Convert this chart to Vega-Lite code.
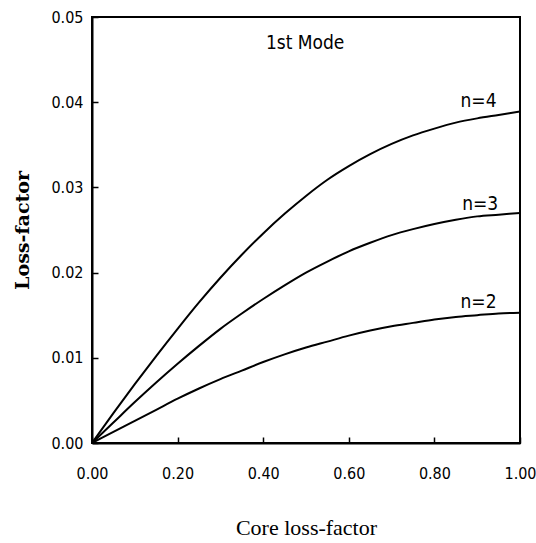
{
  "$schema": "https://vega.github.io/schema/vega-lite/v6.json",
  "width": 428,
  "height": 426,
  "autosize": "none",
  "padding": {"left": 92, "top": 17, "right": 16, "bottom": 100},
  "background": "white",
  "config": {
    "view": {"stroke": "black", "strokeWidth": 2},
    "axis": {
      "grid": false,
      "domainColor": "black",
      "domainWidth": 2,
      "tickColor": "black",
      "tickWidth": 1.5,
      "tickSize": -6,
      "labelColor": "black",
      "labelFont": "DejaVu Sans Condensed, Liberation Sans, sans-serif",
      "labelFontSize": 16,
      "titleColor": "black"
    }
  },
  "datasets": {
    "curves": [
      {"n": "n=4", "x": 0, "y": 0}, {"n": "n=4", "x": 0.05, "y": 0.0035}, {"n": "n=4", "x": 0.1, "y": 0.0069}, {"n": "n=4", "x": 0.15, "y": 0.0102}, {"n": "n=4", "x": 0.2, "y": 0.0134}, {"n": "n=4", "x": 0.25, "y": 0.0165}, {"n": "n=4", "x": 0.3, "y": 0.0194}, {"n": "n=4", "x": 0.35, "y": 0.0221}, {"n": "n=4", "x": 0.4, "y": 0.0246}, {"n": "n=4", "x": 0.45, "y": 0.0269}, {"n": "n=4", "x": 0.5, "y": 0.0290}, {"n": "n=4", "x": 0.55, "y": 0.0309}, {"n": "n=4", "x": 0.6, "y": 0.0325}, {"n": "n=4", "x": 0.65, "y": 0.0339}, {"n": "n=4", "x": 0.7, "y": 0.0351}, {"n": "n=4", "x": 0.75, "y": 0.0361}, {"n": "n=4", "x": 0.8, "y": 0.0369}, {"n": "n=4", "x": 0.85, "y": 0.0376}, {"n": "n=4", "x": 0.9, "y": 0.0381}, {"n": "n=4", "x": 0.95, "y": 0.0385}, {"n": "n=4", "x": 1.0, "y": 0.0389},
      {"n": "n=3", "x": 0, "y": 0}, {"n": "n=3", "x": 0.05, "y": 0.0024}, {"n": "n=3", "x": 0.1, "y": 0.0048}, {"n": "n=3", "x": 0.15, "y": 0.0071}, {"n": "n=3", "x": 0.2, "y": 0.0093}, {"n": "n=3", "x": 0.25, "y": 0.0114}, {"n": "n=3", "x": 0.3, "y": 0.0134}, {"n": "n=3", "x": 0.35, "y": 0.0152}, {"n": "n=3", "x": 0.4, "y": 0.0169}, {"n": "n=3", "x": 0.45, "y": 0.0185}, {"n": "n=3", "x": 0.5, "y": 0.0200}, {"n": "n=3", "x": 0.55, "y": 0.0213}, {"n": "n=3", "x": 0.6, "y": 0.0225}, {"n": "n=3", "x": 0.65, "y": 0.0235}, {"n": "n=3", "x": 0.7, "y": 0.0244}, {"n": "n=3", "x": 0.75, "y": 0.0251}, {"n": "n=3", "x": 0.8, "y": 0.0257}, {"n": "n=3", "x": 0.85, "y": 0.0262}, {"n": "n=3", "x": 0.9, "y": 0.0266}, {"n": "n=3", "x": 0.95, "y": 0.0268}, {"n": "n=3", "x": 1.0, "y": 0.027},
      {"n": "n=2", "x": 0, "y": 0}, {"n": "n=2", "x": 0.05, "y": 0.0013}, {"n": "n=2", "x": 0.1, "y": 0.0026}, {"n": "n=2", "x": 0.15, "y": 0.0039}, {"n": "n=2", "x": 0.2, "y": 0.0052}, {"n": "n=2", "x": 0.25, "y": 0.0064}, {"n": "n=2", "x": 0.3, "y": 0.0075}, {"n": "n=2", "x": 0.35, "y": 0.0085}, {"n": "n=2", "x": 0.4, "y": 0.0095}, {"n": "n=2", "x": 0.45, "y": 0.0104}, {"n": "n=2", "x": 0.5, "y": 0.0112}, {"n": "n=2", "x": 0.55, "y": 0.0119}, {"n": "n=2", "x": 0.6, "y": 0.0126}, {"n": "n=2", "x": 0.65, "y": 0.0132}, {"n": "n=2", "x": 0.7, "y": 0.0137}, {"n": "n=2", "x": 0.75, "y": 0.0141}, {"n": "n=2", "x": 0.8, "y": 0.0145}, {"n": "n=2", "x": 0.85, "y": 0.0148}, {"n": "n=2", "x": 0.9, "y": 0.0150}, {"n": "n=2", "x": 0.95, "y": 0.0152}, {"n": "n=2", "x": 1.0, "y": 0.0153}
    ],
    "labels": [
      {"label": "n=4", "x": 0.903, "y": 0.0401},
      {"label": "n=3", "x": 0.907, "y": 0.0281},
      {"label": "n=2", "x": 0.903, "y": 0.0166},
      {"label": "1st Mode", "x": 0.498, "y": 0.04695}
    ]
  },
  "layer": [
    {
      "data": {"name": "curves"},
      "mark": {"type": "line", "color": "black", "strokeWidth": 2, "interpolate": "monotone", "clip": true},
      "encoding": {
        "x": {
          "field": "x", "type": "quantitative",
          "scale": {"domain": [0, 1], "nice": false, "zero": false},
          "axis": {
            "values": [0, 0.2, 0.4, 0.6, 0.8, 1.0],
            "format": ".2f",
            "labelPadding": 28,
            "labelFlush": false,
            "title": "Core loss-factor",
            "titleFont": "Liberation Serif",
            "titleFontSize": 22,
            "titleFontWeight": "normal",
            "titleX": 214,
            "titleY": 84,
            "titleAlign": "center",
            "titleBaseline": "middle"
          }
        },
        "y": {
          "field": "y", "type": "quantitative",
          "scale": {"domain": [0, 0.05], "nice": false, "zero": false},
          "axis": {
            "values": [0, 0.01, 0.02, 0.03, 0.04, 0.05],
            "format": ".2f",
            "labelPadding": 15,
            "labelFlush": false,
            "title": "Loss-factor",
            "titleFont": "DejaVu Serif",
            "titleFontSize": 19,
            "titleFontWeight": "bold",
            "titleX": -70,
            "titleY": 213,
            "titleAngle": 270,
            "titleAlign": "center",
            "titleBaseline": "middle"
          }
        },
        "detail": {"field": "n"}
      }
    },
    {
      "data": {"name": "labels"},
      "mark": {"type": "text", "color": "black", "font": "DejaVu Sans Condensed, Liberation Sans, sans-serif", "fontSize": 19, "align": "center", "baseline": "middle"},
      "encoding": {
        "x": {"field": "x", "type": "quantitative"},
        "y": {"field": "y", "type": "quantitative"},
        "text": {"field": "label"}
      }
    }
  ]
}
